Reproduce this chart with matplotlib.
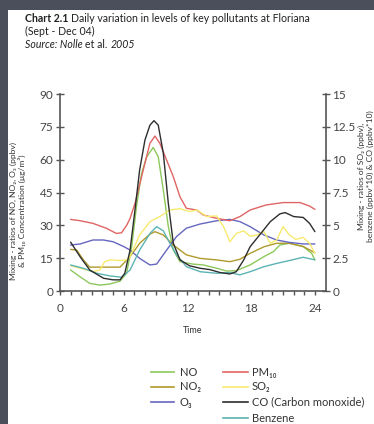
import matplotlib
matplotlib.use("Agg")
import matplotlib.pyplot as plt
from matplotlib.lines import Line2D
from matplotlib.patches import Rectangle

plt.rcParams['font.family'] = ['Lato', 'DejaVu Sans']

# ---- data (left axis, ppbv / ug/m3) ----
no_t = [1, 1.88, 2.8, 3.76, 4.7, 5.65, 6.27, 6.75, 7.2, 7.68, 8.16, 8.78, 9.25, 9.73, 10.2, 10.67, 11.3, 12.5, 13.5, 14.75, 15.7, 16.6, 17.9, 19.2, 20.1, 20.7, 21.6, 22.9, 23.7, 24]
no_v = [9.6, 6.5, 3.5, 2.7, 3.2, 4.5, 8.1, 20.2, 38.5, 53.7, 61.3, 65.6, 61.3, 46.1, 29.4, 18.7, 13.4, 12.3, 11.9, 10.4, 9.1, 9.3, 11.9, 15.7, 18, 21, 21.8, 20.3, 17.2, 14.2]

no2_t = [1, 1.57, 2.2, 2.8, 5.65, 6.6, 7.5, 8.47, 8.94, 9.73, 10.67, 11.9, 13.2, 14.75, 16, 16.94, 17.9, 19.2, 20.4, 21.6, 22.9, 24]
no2_v = [19, 18.7, 14.2, 10.9, 10.9, 15.7, 21.8, 26, 27.1, 25.6, 21, 16.5, 14.9, 14.2, 13.4, 14.5, 17.2, 20.2, 21.8, 21.8, 20.3, 17.5]

o3_t = [1, 1.9, 3.1, 4.1, 5, 6, 6.6, 7.5, 8.47, 9.1, 10.04, 10.98, 11.9, 13.2, 14.75, 16, 16.94, 17.9, 19.2, 20.4, 21.6, 22.9, 24]
o3_v = [21, 21.5, 23.3, 23.3, 22.5, 20.3, 18.7, 14.9, 11.9, 12.3, 18.7, 24.9, 28.7, 30.6, 32.1, 32.7, 31.7, 29.4, 25.6, 23.3, 22.2, 21.5, 21.5]

pm_t = [1, 1.9, 3.1, 4.4, 5.3, 5.8, 6.3, 6.6, 7.06, 7.84, 8.47, 8.94, 9.4, 10.04, 10.67, 11.3, 11.9, 12.86, 13.5, 14.75, 16, 16.94, 17.9, 19.4, 21, 22.6, 23.5, 24]
pm_v = [32.7, 32.1, 30.9, 28.6, 26.3, 26.6, 30.2, 33.2, 40, 55.3, 67.5, 70.8, 67.5, 59.8, 52.2, 43, 37.8, 37, 34.7, 33.2, 32.1, 34, 37, 39.3, 40.4, 40.4, 38.8, 37.3]

# ---- data (right axis) ----
so2_t = [1, 1.9, 3.1, 3.76, 4.2, 4.7, 5.65, 6.3, 6.6, 7.5, 8.47, 9.4, 10.35, 11.3, 12.2, 12.9, 13.8, 14.75, 15.4, 16, 16.6, 17.3, 17.9, 18.5, 19.2, 19.8, 20.4, 21, 21.6, 22.2, 22.9, 23.5, 24]
so2_v = [1.92, 1.73, 1.48, 1.6, 2.23, 2.37, 2.32, 2.37, 2.62, 4.27, 5.28, 5.67, 6.17, 6.27, 6.05, 6.17, 5.67, 5.72, 4.9, 3.75, 4.38, 4.58, 4.17, 4.25, 4.52, 3.63, 3.88, 4.9, 4.27, 3.93, 4.08, 3.63, 2.87]

co_t = [1, 1.9, 2.8, 4.1, 5, 5.65, 6.1, 6.6, 7.06, 7.5, 8, 8.47, 8.85, 9.25, 9.73, 10.2, 10.67, 11.3, 12.2, 13.2, 14.1, 15.1, 16, 16.6, 17.3, 17.9, 18.8, 19.8, 20.7, 21.2, 22, 22.9, 23.5, 24]
co_v = [3.72, 2.6, 1.6, 0.97, 0.85, 0.85, 1.35, 3.12, 6.17, 9.22, 11.5, 12.63, 12.97, 12.63, 10.48, 6.67, 3.63, 2.37, 1.92, 1.73, 1.63, 1.4, 1.3, 1.47, 2.37, 3.37, 4.27, 5.28, 5.87, 5.97, 5.67, 5.6, 5.15, 4.52]

bz_t = [1, 2.2, 3.45, 4.7, 5.8, 6.6, 7.5, 8.47, 9.1, 9.73, 10.35, 10.98, 11.9, 13.2, 14.75, 16, 16.94, 17.9, 19.2, 20.4, 21.6, 22.9, 24]
bz_v = [1.98, 1.73, 1.35, 1.15, 1.05, 1.6, 3.12, 4.38, 4.9, 4.58, 3.63, 2.75, 1.85, 1.47, 1.35, 1.4, 1.23, 1.47, 1.85, 2.1, 2.32, 2.57, 2.37]

left_ticks = [0, 15, 30, 45, 60, 75, 90]
right_ticks = [0, 2.5, 5, 7.5, 10, 12.5, 15]
right_labels = ['0', '2.5', '5', '7.5', '10', '12.5', '15']
x_ticks = [0, 6, 12, 18, 24]

C_NO = '#8cc85a'
C_NO2 = '#b09a2c'
C_O3 = '#6666c0'
C_PM = '#e06464'
C_SO2 = '#f7ea6e'
C_CO = '#2e2e2e'
C_BZ = '#5cb3b3'
AX = '#555555'

W, H = 374, 424
fig = plt.figure(figsize=(W / 100, H / 100), dpi=100, facecolor='#4b4e5b')
fig.add_artist(Rectangle((8 / W, 0), 1, 1 - 10 / H, transform=fig.transFigure,
                         facecolor='white', edgecolor='none', zorder=0))

ax = fig.add_axes([60 / W, 1 - 291 / H, (325.5 - 60) / W, (291 - 94) / H])
ax.set_facecolor('none')
ax2 = ax.twinx()

kw = dict(lw=1.0, solid_joinstyle='round', solid_capstyle='round')
ax.plot(no_t, no_v, color=C_NO, **kw)
ax.plot(no2_t, no2_v, color=C_NO2, **kw)
ax.plot(o3_t, o3_v, color=C_O3, **kw)
ax.plot(pm_t, pm_v, color=C_PM, **kw)
ax2.plot(so2_t, so2_v, color=C_SO2, **kw)
ax2.plot(bz_t, bz_v, color=C_BZ, **kw)
ax2.plot(co_t, co_v, color=C_CO, **kw)

ax.set_xlim(0, 25)
ax.set_ylim(0, 90)
ax2.set_ylim(0, 15)

for a in (ax, ax2):
    a.spines['top'].set_visible(False)
    for s in ('left', 'right', 'bottom'):
        a.spines[s].set_color(AX)
        a.spines[s].set_linewidth(1.2)
ax.spines['right'].set_visible(False)
ax2.spines['left'].set_visible(False)
ax2.spines['bottom'].set_visible(False)

ax.set_xticks(x_ticks)
ax.set_xticks(range(0, 25), minor=True)
ax.set_yticks(left_ticks)
ax2.set_yticks(right_ticks)
ax2.set_yticklabels(right_labels)

ax.tick_params(axis='x', which='both', direction='out', length=3, width=1, color=AX,
               labelsize=8.5, labelcolor='#444444', pad=6)
ax.tick_params(axis='y', direction='inout', length=6, width=1, color=AX,
               labelsize=8.5, labelcolor='#444444', pad=2)
ax2.tick_params(axis='y', direction='inout', length=6, width=1, color=AX,
                labelsize=8.5, labelcolor='#444444', pad=2)

ax.set_xlabel('Time', fontsize=6.5, color='#333333', labelpad=8)

lab_kw = dict(rotation=90, ha='center', va='center', fontsize=6.1, color='#333333')
fig.text(13 / W, 1 - 211 / H, 'Mixing - ratios of NO, NO\u2082, O\u2083 (ppbv)', **lab_kw)
fig.text(22 / W, 1 - 211 / H, '& PM\u2081\u2080 Concentration (\u03bcg/m\u00b3)', **lab_kw)
fig.text(361 / W, 1 - 176 / H, 'Mixing - ratios of SO\u2082 (ppbv),', **lab_kw)
fig.text(370 / W, 1 - 176 / H, 'benzene (ppbv*10) & CO (ppbv*10)', **lab_kw)


def seq(parts, x, y, **kw):
    """Draw a row of text runs one after another."""
    fig.canvas.draw()
    r = fig.canvas.get_renderer()
    cx = x
    for s, extra in parts:
        t = fig.text(cx / W, 1 - y / H, s, ha='left', va='center', **kw, **extra)
        bb = t.get_window_extent(renderer=r)
        cx = bb.x1


tkw = dict(fontsize=7.6, color='#222222')
seq([('Chart 2.1 ', dict(fontweight='bold')),
     ('Daily variation in levels of key pollutants at Floriana', {})], 25, 18, **tkw)
fig.text(25 / W, 1 - 31 / H, '(Sept - Dec 04)', ha='left', va='center', **tkw)
seq([('Source: Nolle ', dict(style='italic')), ('et al. ', {}), ('2005', dict(style='italic'))],
    25, 44, **tkw)

# legend
col1 = [('NO', C_NO), ('NO\u2082', C_NO2), ('O\u2083', C_O3)]
col2 = [('PM\u2081\u2080', C_PM), ('SO\u2082', C_SO2), ('CO (Carbon monoxide)', C_CO), ('Benzene', C_BZ)]
rows = [372, 387, 402, 418]
for items, x0, x1, xt in ((col1, 151, 174, 180), (col2, 223, 248, 252)):
    for (lab, col), y in zip(items, rows):
        fig.add_artist(Line2D([x0 / W, x1 / W], [1 - y / H, 1 - y / H], color=col, lw=1.2,
                              transform=fig.transFigure))
        fig.text(xt / W, 1 - y / H, lab, fontsize=8, ha='left', va='center', color='#333333')

fig.savefig('out.png', dpi=100, facecolor=fig.get_facecolor())
